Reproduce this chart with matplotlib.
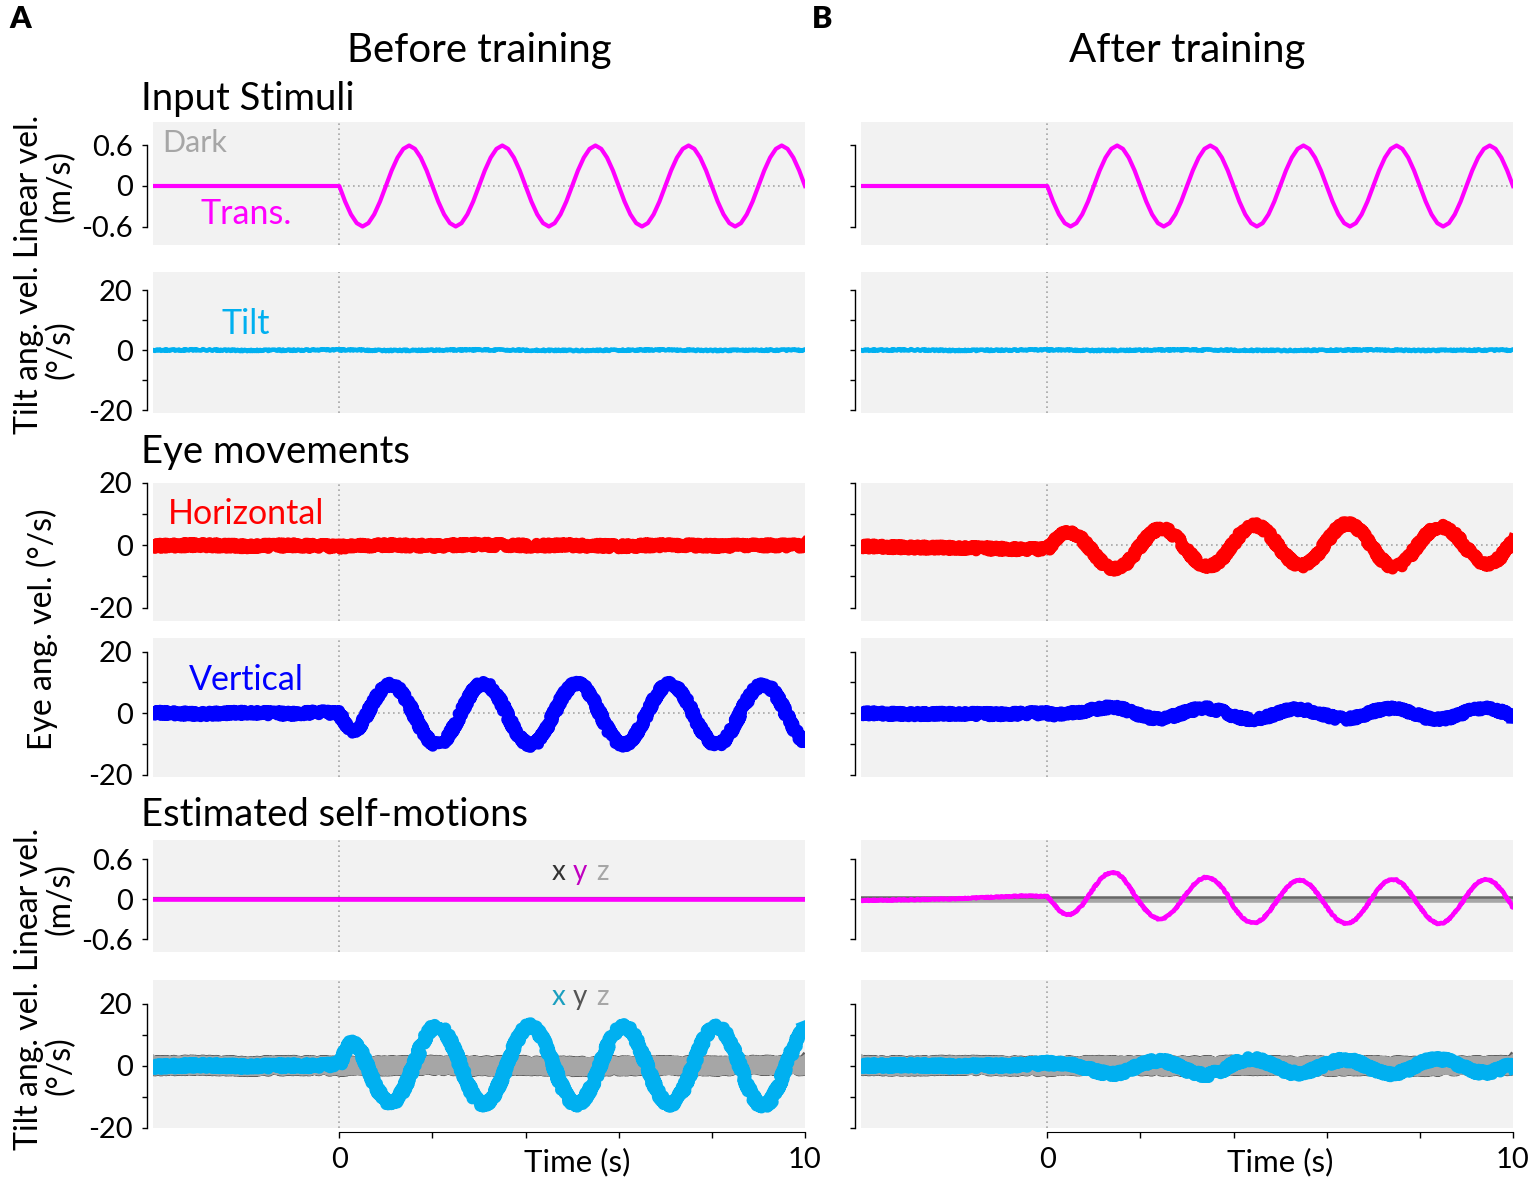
import numpy as np
import matplotlib.pyplot as plt
from matplotlib.transforms import blended_transform_factory

plt.rcParams['font.family'] = ['Lato', 'DejaVu Sans']

# time bases (s)
t_pre = [-4, -3, -2, -1, -0.5]           # before stimulus onset
t_post = list(np.arange(81) * 0.125)     # 0 .. 10 s
t_flat = list(range(-4, 11))

# ---- input stimuli (same in both columns) ----
trans_pre = [0, 0, 0, 0, 0]
trans_post = [
    0, -0.23, -0.42, -0.55, -0.6, -0.55, -0.42, -0.23, 0, 0.23, 0.42, 0.55, 0.6, 0.55, 0.42, 0.23,
    0, -0.23, -0.42, -0.55, -0.6, -0.55, -0.42, -0.23, 0, 0.23, 0.42, 0.55, 0.6, 0.55, 0.42, 0.23,
    0, -0.23, -0.42, -0.55, -0.6, -0.55, -0.42, -0.23, 0, 0.23, 0.42, 0.55, 0.6, 0.55, 0.42, 0.23,
    0, -0.23, -0.42, -0.55, -0.6, -0.55, -0.42, -0.23, 0, 0.23, 0.42, 0.55, 0.6, 0.55, 0.42, 0.23,
    0, -0.23, -0.42, -0.55, -0.6, -0.55, -0.42, -0.23, 0, 0.23, 0.42, 0.55, 0.6, 0.55, 0.42, 0.23,
    0]
tilt_in = [0.0, 0.1, -0.1, 0.0, 0.1, -0.1, 0.0, 0.1, 0.0, -0.1, 0.0, 0.1, -0.1, 0.0, 0.0]

# ---- before training ----
a_horiz = [-0.2, 0.1, -0.3, 0.0, -0.4, 0.1, -0.2, 0.2, -0.1, 0.0, -0.3, 0.1, -0.2, 0.0, -0.1]
a_vert_pre = [0.2, -0.3, 0.2, -0.2, 0.3]
a_vert_post = [
    0.0, -3.5, -6.0, -5.5, -3.0, 0.5, 4.0, 7.0, 9.0, 9.3, 8.3, 6.0, 2.8, -1.1, -4.8, -7.9,
    -9.8, -10.3, -9.2, -6.8, -3.4, 0.5, 4.2, 7.3, 9.2, 9.7, 8.6, 6.2, 2.8, -1.1, -4.8, -7.9,
    -9.7, -10.4, -9.3, -6.9, -3.5, 0.4, 4.1, 7.2, 9.3, 9.8, 8.7, 6.3, 2.9, -1.0, -4.7, -7.8,
    -9.8, -10.3, -9.2, -6.8, -3.4, 0.5, 4.2, 7.3, 9.2, 9.7, 8.6, 6.2, 2.8, -1.1, -4.8, -7.9,
    -9.8, -10.3, -9.2, -6.8, -3.4, 0.4, 4.0, 7.0, 8.9, 9.3, 8.4, 6.1, 2.8, -1.0, -4.6, -7.6,
    -9.6]
a_est_lin = [0.0] * 15
a_est_lin_gray = [0.0] * 15
a_est_tilt_pre = [-0.3, 0.2, -0.2, 0.1, 0.0]
a_est_tilt_post = [
    0.5, 4.5, 7.5, 7.0, 3.5, -1.0, -5.5, -9.0, -11.5, -12.0, -10.8, -7.8, -3.6, 1.2, 6.0, 9.9,
    12.3, 12.9, 11.5, 8.4, 4.1, -0.8, -5.6, -9.5, -11.9, -12.5, -11.1, -8.0, -3.7, 1.2, 6.0, 9.9,
    12.4, 13.0, 11.6, 8.4, 4.0, -0.8, -5.6, -9.5, -11.9, -12.4, -11.0, -8.0, -3.7, 1.2, 6.0, 9.9,
    12.3, 12.9, 11.5, 8.4, 4.1, -0.8, -5.6, -9.5, -11.9, -12.5, -11.1, -8.0, -3.7, 1.2, 6.0, 9.9,
    12.2, 12.8, 11.4, 8.3, 4.0, -0.9, -5.8, -9.8, -12.3, -12.9, -11.5, -8.3, -3.8, 1.1, 5.8, 9.6,
    12.0]
a_est_tilt_gray = [0.0, 0.2, -0.2, 0.1, -0.1, 0.0, 0.2, -0.1, 0.1, -0.2, 0.0, 0.1, -0.1, 0.2, 0.0]

# ---- after training ----
b_horiz_pre = [-0.3, -0.7, -0.8, -1.1, -1.3]
b_horiz_post = [
    -1.2, 0.9, 2.8, 3.9, 4.2, 3.43, 1.85, -0.26, -2.58, -4.76, -6.46, -7.43, -7.53, -6.73, -5.0, -2.6,
    -0.2, 2.2, 4.23, 5.23, 5.33, 4.5, 2.89, 0.72, -1.65, -3.88, -5.63, -6.63, -6.73, -5.9, -4.29, -2.12,
    0.6, 3.2, 5.26, 6.32, 6.42, 5.54, 3.82, 1.51, -1.01, -3.39, -5.26, -6.32, -6.42, -5.54, -3.82, -1.51,
    1.09, 3.65, 5.66, 6.80, 6.92, 5.97, 4.12, 1.63, -1.09, -3.65, -5.66, -6.80, -6.92, -5.97, -4.12, -1.63,
    0.94, 3.13, 4.85, 5.83, 5.93, 5.12, 3.53, 1.40, -0.94, -3.13, -4.85, -5.83, -5.93, -5.12, -3.53, -0.9,
    2.0]
b_vert_pre = [0.0, -0.3, -0.2, -0.3, -0.1]
b_vert_post = [
    0.0, -0.4, -0.4, -0.3, -0.1, 0.2, 0.5, 0.9, 1.2, 1.5, 1.8, 1.9, 1.8, 1.4, 0.8, 0.1,
    -0.73, -1.28, -1.66, -1.8, -1.68, -1.32, -0.77, -0.13, 0.53, 1.08, 1.46, 1.6, 1.48, 1.12, 0.57, -0.07,
    -0.96, -1.5, -1.86, -2.0, -1.88, -1.53, -1.0, -0.38, 0.26, 0.8, 1.16, 1.3, 1.18, 0.83, 0.3, -0.32,
    -0.73, -1.28, -1.66, -1.8, -1.68, -1.32, -0.77, -0.13, 0.53, 1.08, 1.46, 1.6, 1.48, 1.12, 0.57, -0.07,
    -0.86, -1.45, -1.85, -2.0, -1.87, -1.49, -0.91, -0.23, 0.46, 1.05, 1.45, 1.6, 1.47, 1.09, 0.51, -0.17,
    -0.9]
b_est_lin_pre = [-0.02, -0.01, 0.005, 0.035, 0.05]
b_est_lin_post = [
    0.04, -0.06, -0.17, -0.23, -0.23, -0.18, -0.09, 0.04, 0.17, 0.29, 0.37, 0.40, 0.39, 0.32, 0.20, 0.06,
    -0.063, -0.174, -0.256, -0.297, -0.290, -0.237, -0.145, -0.029, 0.093, 0.204, 0.286, 0.327, 0.320, 0.267, 0.175, 0.059,
    -0.116, -0.23, -0.315, -0.357, -0.35, -0.295, -0.2, -0.081, 0.046, 0.16, 0.245, 0.287, 0.28, 0.225, 0.13, 0.011,
    -0.118, -0.236, -0.323, -0.367, -0.360, -0.303, -0.206, -0.082, 0.048, 0.166, 0.253, 0.297, 0.290, 0.233, 0.136, 0.012,
    -0.118, -0.236, -0.323, -0.367, -0.360, -0.303, -0.206, -0.082, 0.048, 0.166, 0.253, 0.297, 0.290, 0.233, 0.136, 0.012,
    -0.13]
b_est_lin_x = [0.03] * 15
b_est_lin_z = [-0.02] * 15
b_est_tilt_pre = [0.0, 0.2, -0.1, 0.1, 0.3]
b_est_tilt_post = [
    0.9, 0.8, 0.7, 0.5, 0.3, 0.0, -0.4, -0.9, -1.5, -2.0, -2.4, -2.6, -2.5, -2.0, -1.3, -0.5,
    0.25, 1.0, 1.51, 1.7, 1.54, 1.05, 0.31, -0.56, -1.45, -2.2, -2.71, -2.9, -2.74, -2.25, -1.51, -0.64,
    0.75, 1.5, 2.01, 2.2, 2.04, 1.55, 0.81, -0.06, -0.95, -1.7, -2.21, -2.4, -2.24, -1.75, -1.01, -0.14,
    0.55, 1.3, 1.81, 2.0, 1.84, 1.35, 0.61, -0.26, -1.15, -1.9, -2.41, -2.6, -2.44, -1.95, -1.21, -0.34,
    0.81, 1.53, 2.02, 2.2, 2.05, 1.58, 0.87, 0.04, -0.81, -1.53, -2.02, -2.2, -2.05, -1.58, -0.87, -0.04,
    0.0]
b_est_tilt_gray = [0.1, -0.1, 0.2, 0.0, -0.2, 0.1, 0.0, -0.1, 0.2, 0.0, -0.1, 0.1, -0.2, 0.0, 0.1]

MAGENTA = '#ff00ff'
CYAN = '#00b0f0'
RED = '#ff0000'
BLUE = '#0000ff'
DARKGRAY = '#5e5e5e'
LIGHTGRAY = '#a6a6a6'

W, H = 1535, 1188
COLS = [(153, 805), (861, 1513)]
ROWS = [(122, 245), (272, 413), (483, 621), (638, 777), (840, 952), (980, 1128)]
YLIMS = [(-0.874, 0.948), (-20.9, 26.0), (-24.3, 20.0), (-20.7, 24.4), (-0.795, 0.89), (-20, 27.6)]

fig = plt.figure(figsize=(W / 100, H / 100), dpi=100)


def ftext(x, y, s, **kw):
    return fig.text(x / W, 1 - y / H, s, **kw)


def trace(ax, t, y, color, lw, jitter=0.0, z=3):
    line, = ax.plot(t, y, color=color, lw=lw, zorder=z, solid_joinstyle='round')
    if jitter:
        line.set_sketch_params(jitter, 2.0, 4)
    return line


axes = [[None] * 6 for _ in range(2)]
for c, (x0, x1) in enumerate(COLS):
    for r, (top, bot) in enumerate(ROWS):
        ax = fig.add_axes([x0 / W, 1 - bot / H, (x1 - x0) / W, (bot - top) / H])
        ax.set_facecolor('#f2f2f2')
        ax.set_xlim(-4, 10)
        ax.set_ylim(*YLIMS[r])
        for s in ('top', 'right', 'bottom'):
            ax.spines[s].set_visible(False)
        ax.spines['left'].set_position(('outward', 4.5))
        ax.spines['left'].set_linewidth(1.0)
        if r in (0, 4):
            ax.spines['left'].set_bounds(-0.6, 0.6)
            ax.set_yticks([-0.6, 0, 0.6])
            labels = ['-0.6', '0', '0.6']
        else:
            ax.spines['left'].set_bounds(-20, 20)
            ax.set_yticks([-20, -10, 0, 10, 20])
            labels = ['-20', '', '0', '', '20']
        ax.set_yticklabels(labels if c == 0 else [''] * len(labels))
        ax.tick_params(axis='y', direction='out', length=3.5, width=1.0, pad=6.5, labelsize=21)
        if r == 5:
            ax.spines['bottom'].set_visible(True)
            ax.spines['bottom'].set_position(('outward', 3))
            ax.spines['bottom'].set_bounds(0, 10)
            ax.set_xticks([0, 2, 4, 6, 8, 10])
            ax.set_xticklabels(['0', '', '', '', '', '10'])
            ax.tick_params(axis='x', direction='out', length=4, width=1.0, pad=7, labelsize=21)
            tr = blended_transform_factory(ax.transData, ax.transAxes)
            ax.text(5.1 if c == 0 else 5.0, -0.295, 'Time (s)', transform=tr,
                    ha='center', va='baseline', fontsize=22.5)
        else:
            ax.set_xticks([])
        ax.axvline(0, color=LIGHTGRAY, lw=1.2, ls=(0, (1, 2)), zorder=1)
        ax.axhline(0, color=LIGHTGRAY, lw=1.2, ls=(0, (1, 2)), zorder=1)
        axes[c][r] = ax

A, B = axes
t_full = t_pre + t_post

# row 1: linear stimulus, row 2: tilt stimulus
for col in (A, B):
    trace(col[0], t_full, trans_pre + trans_post, MAGENTA, 3.0)
    trace(col[1], t_flat, tilt_in, CYAN, 3.3, jitter=0.7)

# before training
trace(A[2], t_flat, a_horiz, RED, 8, jitter=2.6)
trace(A[3], t_full, a_vert_pre + a_vert_post, BLUE, 8, jitter=2.6)
trace(A[4], t_flat, a_est_lin_gray, DARKGRAY, 3.0, z=2)
trace(A[4], t_flat, a_est_lin, MAGENTA, 3.3)
trace(A[5], t_flat, a_est_tilt_gray, DARKGRAY, 11.5, jitter=2.8, z=2)
trace(A[5], t_flat, a_est_tilt_gray, LIGHTGRAY, 12, jitter=1.6, z=2)
trace(A[5], t_full, a_est_tilt_pre + a_est_tilt_post, CYAN, 8.5, jitter=2.6)

# after training
trace(B[2], t_full, b_horiz_pre + b_horiz_post, RED, 8, jitter=2.6)
trace(B[3], t_full, b_vert_pre + b_vert_post, BLUE, 8, jitter=2.6)
trace(B[4], t_flat, b_est_lin_z, LIGHTGRAY, 4.0, z=2)
trace(B[4], t_flat, b_est_lin_x, '#666666', 1.8, z=2)
trace(B[4], t_full, b_est_lin_pre + b_est_lin_post, MAGENTA, 3.3, jitter=0.5)
trace(B[5], t_flat, b_est_tilt_gray, DARKGRAY, 11.5, jitter=2.8, z=2)
trace(B[5], t_flat, b_est_tilt_gray, LIGHTGRAY, 12, jitter=1.6, z=2)
trace(B[5], t_full, b_est_tilt_pre + b_est_tilt_post, CYAN, 8.5, jitter=2.6)

# in-panel labels
A[0].text(-3.1, 0.51, 'Dark', color=LIGHTGRAY, ha='center', va='baseline', fontsize=22)
A[0].text(-2, -0.57, 'Trans.', color=MAGENTA, ha='center', va='baseline', fontsize=24.5)
A[1].text(-2, 5.5, 'Tilt', color=CYAN, ha='center', va='baseline', fontsize=24.5)
A[2].text(-2, 6.8, 'Horizontal', color=RED, ha='center', va='baseline', fontsize=24.5)
A[3].text(-2, 7.4, 'Vertical', color=BLUE, ha='center', va='baseline', fontsize=24.5)
xyz_pos = (4.70, 5.17, 5.66)
for letter, xs, cl in zip('xyz', xyz_pos, ('#333333', '#c000c0', LIGHTGRAY)):
    A[4].text(xs, 0.29, letter, color=cl, ha='center', va='baseline', fontsize=20)
for letter, xs, cl in zip('xyz', xyz_pos, ('#1a9fbf', '#555555', LIGHTGRAY)):
    A[5].text(xs, 19.5, letter, color=cl, ha='center', va='baseline', fontsize=20)

# headings
ftext(9, 28, 'A', fontsize=22, fontweight='heavy', va='baseline')
ftext(812, 28, 'B', fontsize=22, fontweight='heavy', va='baseline')
ftext(479, 62, 'Before training', ha='center', va='baseline', fontsize=29)
ftext(1187, 62, 'After training', ha='center', va='baseline', fontsize=29)
ftext(141, 110, 'Input Stimuli', va='baseline', fontsize=27.5)
ftext(141, 463, 'Eye movements', va='baseline', fontsize=27.5)
ftext(141, 826, 'Estimated self-motions', va='baseline', fontsize=27.5)

# y labels
ylab = dict(rotation=90, ha='center', va='center', multialignment='center',
            fontsize=23, linespacing=1.05)
ftext(45, 186, 'Linear vel.\n(m/s)', **ylab)
ftext(45, 350, 'Tilt ang. vel.\n(°/s)', **ylab)
ftext(42, 629, 'Eye ang. vel. (°/s)', **ylab)
ftext(45, 899, 'Linear vel.\n(m/s)', **ylab)
ftext(45, 1066, 'Tilt ang. vel.\n(°/s)', **ylab)

fig.savefig('out.png', dpi=100)
